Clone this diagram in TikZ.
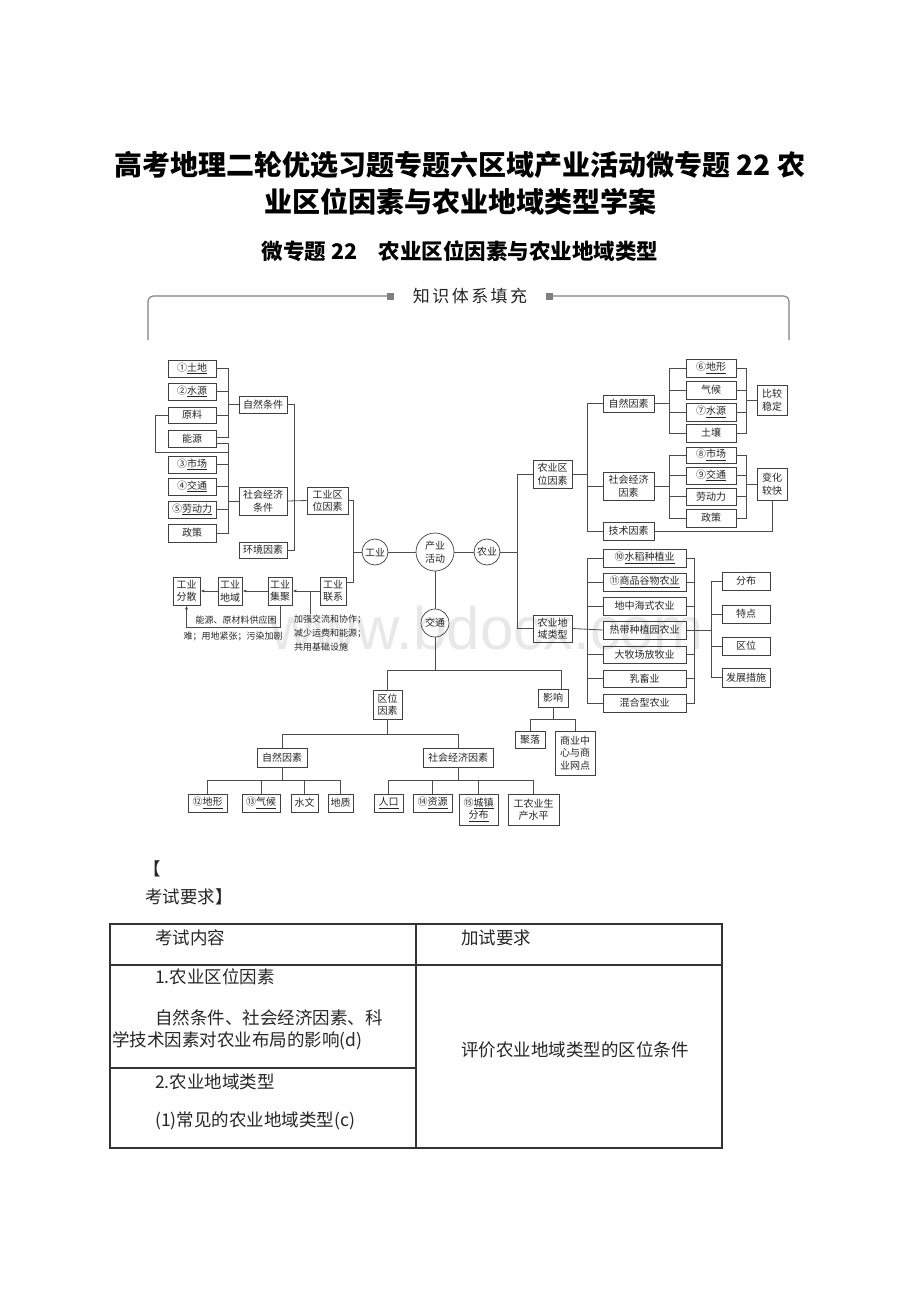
\documentclass[tikz,border=0pt]{standalone}
\usepackage{fontspec}
\setmainfont{Liberation Serif}
\newfontfamily\cjk{Noto Sans CJK SC}
\newfontfamily\wmfont{Liberation Sans}
\usetikzlibrary{arrows.meta}
\newcommand\ul[1]{\underline{#1}}
\newcommand\bx[6]{\node[bxs,minimum width={(#4)-(#2)},minimum height={(#5)-(#3)}] (#1) at ({((#2)+(#4))/2},{((#3)+(#5))/2}) {#6};}
\tikzset{
  bxs/.style={draw=black!75,line width=0.7pt,inner sep=0.5pt,align=center,font=\cjk\fontsize{10}{12.5}\selectfont,text=black!85},
  circ/.style={draw=black!75,line width=0.7pt,circle,inner sep=0pt,align=center,font=\cjk\fontsize{10}{12.5}\selectfont,text=black!85},
  ln/.style={draw=black!70,line width=0.8pt},
  arr/.style={-{Latex[length=4pt,width=3pt]}},
  note/.style={font=\cjk\fontsize{9}{14}\selectfont,text=black!85,inner sep=0pt},
  tbl/.style={font=\cjk\fontsize{17.5}{22}\selectfont,text=black!85,inner sep=0pt,anchor=west},
}
\begin{document}
\begin{tikzpicture}[x=1pt,y=-1pt]
\fill[white] (0,0) rectangle (920,1302);
\useasboundingbox (0,0) rectangle (920,1302);
% titles
\node[font=\cjk\bfseries\fontsize{28}{34}\selectfont] (t1) at (460,165) {高考地理二轮优选习题专题六区域产业活动微专题 22 农};
\node[font=\cjk\bfseries\fontsize{28}{34}\selectfont] (t2) at (460,202) {业区位因素与农业地域类型学案};
\node[font=\cjk\bfseries\fontsize{21.5}{26}\selectfont] (t3) at (460,251) {微专题 22\hspace{1em}农业区位因素与农业地域类型};
% watermark
\node[text=black!9,font=\wmfont\fontsize{60}{60}\selectfont] (wm) at (487,628) {www.bdocx.com};
% frame
\draw[draw=black!50,line width=1.1pt,rounded corners=5] (148,340) -- (148,296) -- (387,296);
\draw[draw=black!50,line width=1.1pt,rounded corners=5] (553,296) -- (789,296) -- (789,340);
\fill[black!50] (387,292.5) rectangle (394,299.5);
\fill[black!50] (546,292.5) rectangle (553,299.5);
\node[font=\cjk\fontsize{17}{20}\selectfont,text=black!85] (kt) at (470,296) {知\hspace{2.5pt}识\hspace{2.5pt}体\hspace{2.5pt}系\hspace{2.5pt}填\hspace{2.5pt}充};
% ---------- industry ----------
\bx{tudi}{168}{360}{216}{377}{①\ul{土地}}
\bx{shuiyuan}{168}{383}{216}{400}{②\ul{水源}}
\bx{yuanliao}{168}{407}{216}{423}{原料}
\bx{nengyuan}{168}{430}{216}{447}{能源}
\bx{shichang}{168}{456}{216}{473}{③\ul{市场}}
\bx{jiaotong}{168}{478}{216}{495}{④\ul{交通}}
\bx{laodong}{168}{501}{216}{518}{⑤\ul{劳动力}}
\bx{zhengce}{168}{524}{216}{542}{政策}
\bx{zrtj}{239}{396}{287}{413}{自然条件}
\bx{shjj}{239}{487}{287}{515}{社会经济\\条件}
\bx{hjys}{239}{542}{287}{558}{环境因素}
\bx{gyqw}{307}{487}{348}{514}{工业区\\位因素}
\node[circ,minimum size=26pt] (gongye) at (375,552) {工业};
\node[circ,minimum size=38pt] (chanye) at (435,552) {产业\\活动};
\node[circ,minimum size=26pt] (nongye) at (487,552) {农业};
\node[circ,minimum size=28pt] (jtc) at (435,623) {交通};
\bx{gylx}{320}{577}{346}{605}{工业\\联系}
\bx{gyjj}{268}{577}{292}{605}{工业\\集聚}
\bx{gydy}{218}{577}{242}{605}{工业\\地域}
\bx{gyfs}{173}{577}{200}{605}{工业\\分散}
% left brackets
\draw[ln] (tudi.east) -| (228,437) -- (nengyuan.east|-0,437);
\draw[ln] (shuiyuan.east) -- ++(12,0);
\draw[ln] (yuanliao.east) -- ++(12,0);
\draw[ln] (228,404.5) -- (zrtj.west);
\draw[ln] (nengyuan.east|-0,443) -| (228,533) -- (zhengce.east);
\draw[ln] (shichang.east) -- ++(12,0);
\draw[ln] (jiaotong.east) -- ++(12,0);
\draw[ln] (laodong.east) -- ++(12,0);
\draw[ln] (yuanliao.west) -| (155,452) -- (228,452);
\draw[ln] (228,501) -- (shjj.west);
\draw[ln] (zrtj.east) -| (294,550) -- (hjys.east);
\draw[ln] (shjj.east) -- (gyqw.west);
\draw[ln] (gyqw.east) -| (353,582) -- (gylx.east|-0,582);
\draw[ln] (353,552) -- (gongye.west);
\draw[ln,arr] (gylx.west) -- (gyjj.east);
\draw[ln] (310,591) -- (310,614);
\draw[ln,arr] (gyjj.west) -- (gydy.east);
\draw[ln,arr] (gydy.west) -- (gyfs.east);
\draw[ln,arr] (gyjj.south) -- ++(0,22) -| (gyfs.south);
\node[note,align=left,anchor=north west] (n1) at (294,615) {加强交流和协作；\\减少运费和能源；\\共用基础设施};
\node[note] (n2) at (236,620) {能源、原材料供应困};
\node[note] (n3) at (233,636) {难；用地紧张；污染加剧};
% circles
\draw[ln] (gongye.east) -- (chanye.west);
\draw[ln] (chanye.east) -- (nongye.west);
\draw[ln] (chanye.south) -- (jtc.north);
\draw[ln] (nongye.east) -- (517,552);
% ---------- agriculture ----------
\bx{nyqw}{533}{460}{572}{488}{农业区\\位因素}
\bx{nydy}{533}{615}{572}{642}{农业地\\域类型}
\draw[ln] (nyqw.west) -| (517,628.5) -- (nydy.west);
\bx{zrys}{603}{395}{654}{412}{自然因素}
\bx{shys}{603}{472}{654}{500}{社会经济\\因素}
\bx{jsys}{603}{522}{654}{540}{技术因素}
\draw[ln] (nyqw.east) -- (587,474);
\draw[ln] (zrys.west) -| (587,531) -- (jsys.west);
\draw[ln] (587,486) -- (shys.west);
\bx{dx6}{686}{359}{736}{377}{⑥\ul{地形}}
\bx{qh}{686}{381}{736}{399}{气候}
\bx{sy7}{686}{403}{736}{421}{⑦\ul{水源}}
\bx{tr}{686}{424}{736}{442}{土壤}
\bx{bjwd}{757}{385}{787}{415}{比较\\稳定}
\draw[ln] (zrys.east) -- (669,403.5);
\draw[ln] (dx6.west) -| (669,433) -- (tr.west);
\draw[ln] (qh.west) -- ++(-17,0);
\draw[ln] (sy7.west) -- ++(-17,0);
\draw[ln] (dx6.east) -| (746,433) -- (tr.east);
\draw[ln] (qh.east) -- ++(10,0);
\draw[ln] (sy7.east) -- ++(10,0);
\draw[ln] (746,400) -- (bjwd.west);
\bx{sc8}{686}{447}{736}{463}{⑧\ul{市场}}
\bx{jt9}{686}{467}{736}{484}{⑨\ul{交通}}
\bx{ldl}{686}{488}{736}{505}{劳动力}
\bx{zc}{686}{509}{736}{527}{政策}
\bx{bhkk}{757}{468}{787}{500}{变化\\较快}
\draw[ln] (shys.east) -- (669,486);
\draw[ln] (sc8.west) -| (669,518) -- (zc.west);
\draw[ln] (jt9.west) -- ++(-17,0);
\draw[ln] (ldl.west) -- ++(-17,0);
\draw[ln] (sc8.east) -| (746,518) -- (zc.east);
\draw[ln] (jt9.east) -- ++(10,0);
\draw[ln] (ldl.east) -- ++(10,0);
\draw[ln] (746,484) -- (bhkk.west);
\draw[ln] (jsys.east) -| (bhkk.south);
\bx{sd}{603}{549}{686}{567}{⑩\ul{水稻种植业}}
\bx{spgw}{603}{573}{686}{591}{⑪\ul{商品谷物农业}}
\bx{dzh}{603}{597}{686}{615}{地中海式农业}
\bx{rd}{603}{621}{686}{639}{热带种植园农业}
\bx{dmc}{603}{646}{686}{663}{大牧场放牧业}
\bx{rx}{603}{670}{686}{687}{乳畜业}
\bx{hh}{603}{694}{686}{712}{混合型农业}
\draw[ln] (nydy.east) -- (rd.west);
\draw[ln] (sd.west) -| (587,703) -- (hh.west);
\draw[ln] (spgw.west) -- ++(-16,0);
\draw[ln] (dzh.west) -- ++(-16,0);
\draw[ln] (dmc.west) -- ++(-16,0);
\draw[ln] (rx.west) -- ++(-16,0);
\draw[ln] (sd.east) -| (694,703) -- (hh.east);
\draw[ln] (spgw.east) -- ++(8,0);
\draw[ln] (dzh.east) -- ++(8,0);
\draw[ln] (dmc.east) -- ++(8,0);
\draw[ln] (rx.east) -- ++(8,0);
\draw[ln] (rd.east) -- (711,630);
\bx{fb}{722}{572}{770}{590}{分布}
\bx{td}{722}{605}{770}{623}{特点}
\bx{qw}{722}{637}{770}{655}{区位}
\bx{fzcs}{722}{668}{770}{687}{发展措施}
\draw[ln] (fb.west) -| (711,677.5) -- (fzcs.west);
\draw[ln] (td.west) -- ++(-11,0);
\draw[ln] (qw.west) -- ++(-11,0);
% ---------- transport ----------
\bx{qwys}{373}{690}{402}{719}{区位\\因素}
\bx{yx}{538}{689}{568}{707}{影响}
\draw[ln] (jtc.south) -- (jtc.south|-0,670);
\draw[ln] (qwys.north) |- (561,670) -- (yx.north-|561,0);
\bx{jl}{515}{731}{545}{748}{聚落}
\bx{syzx}{555}{731}{595}{775}{商业中\\心与商\\业网点}
\draw[ln] (yx.south) -- (553,719);
\draw[ln] (jl.north) |- (syzx.north|-0,719) -- (syzx.north);
\bx{zrys2}{257}{748}{307}{767}{自然因素}
\bx{shys2}{423}{748}{493}{767}{社会经济因素}
\draw[ln] (qwys.south) -- (387.5,734);
\draw[ln] (zrys2.north) |- (shys2.north|-0,734) -- (shys2.north);
\bx{dx12}{188}{794}{227}{812}{⑫\ul{地形}}
\bx{qh13}{242}{794}{280}{812}{⑬\ul{气候}}
\bx{sw}{291}{794}{318}{812}{水文}
\bx{dz}{328}{794}{353}{812}{地质}
\draw[ln] (zrys2.south) -- (282,780);
\draw[ln] (dx12.north) |- (dz.north|-0,780) -- (dz.north);
\draw[ln] (qh13.north) -- ++(0,-14);
\draw[ln] (sw.north) -- ++(0,-14);
\bx{rk}{374}{794}{403}{812}{\ul{人口}}
\bx{zy14}{413}{794}{452}{812}{⑭\ul{资源}}
\bx{cz15}{459}{794}{498}{825}{⑮\ul{城镇}\\\ul{分布}}
\bx{gny}{508}{794}{559}{825}{工农业生\\产水平}
\draw[ln] (shys2.south) -- (458,780);
\draw[ln] (rk.north) |- (gny.north|-0,780) -- (gny.north);
\draw[ln] (zy14.north) -- ++(0,-14);
\draw[ln] (cz15.north) -- ++(0,-14);
% ---------- exam requirements ----------
\node[tbl] (b1) at (143,869) {【};
\node[tbl] (b2) at (145,897) {考试要求】};
\draw[black!80,line width=1.1pt] (110,924) rectangle (722,1148);
\draw[black!80,line width=1.1pt] (416,924) -- (416,1148);
\draw[black!80,line width=1.1pt] (110,965) -- (722,965);
\draw[black!80,line width=1.1pt] (110,1068) -- (416,1068);
\node[tbl] (c1) at (155,938) {考试内容};
\node[tbl] (c2) at (461,938) {加试要求};
\node[tbl] (c3) at (155,977) {1.农业区位因素};
\node[tbl] (c4) at (155,1018) {自然条件、社会经济因素、科};
\node[tbl] (c5) at (112,1041) {学技术因素对农业布局的影响(d)};
\node[tbl] (c6) at (155,1082) {2.农业地域类型};
\node[tbl] (c7) at (155,1121) {(1)常见的农业地域类型(c)};
\node[tbl] (c8) at (461,1050) {评价农业地域类型的区位条件};
\end{tikzpicture}
\end{document}
